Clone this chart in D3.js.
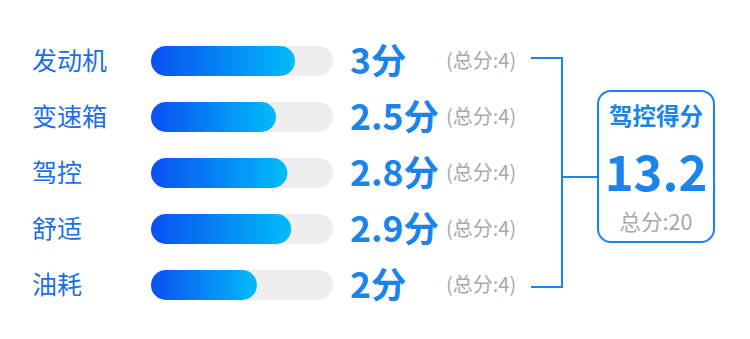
<!DOCTYPE html>
<html>
<head>
<meta charset="utf-8">
<script src="https://cdn.jsdelivr.net/npm/d3@7"></script>
<style>
  html, body { margin: 0; padding: 0; background: #fff; }
  svg text { font-family: "Noto Sans CJK SC", "Noto Sans", sans-serif; }
</style>
</head>
<body>
<svg id="chart" width="750" height="339"></svg>
<script>
// ── data ─────────────────────────────────────────────────────────────────────
const categories = ['发动机', '变速箱', '驾控', '舒适', '油耗'];
const scores     = [3, 2.5, 2.8, 2.9, 2];
const maxScores  = [4, 4, 4, 4, 4];
const summaryTitle = '驾控得分';
const summaryMax   = 20;

// ── colours ──────────────────────────────────────────────────────────────────
const blue      = '#1a84ea';
const labelBlue = '#1b6fe6';
const grey      = '#a9a9a9';
const trackGrey = '#eeeeee';

const svg = d3.select('#chart');

// rows
const y = d3.scalePoint()
  .domain(categories)
  .range([61, 285]);

const barX = 151, barW = 182, barH = 30;

// fill width keeps the rounded cap visible even at low scores
const x = d3.scaleLinear()
  .domain([0, d3.max(maxScores)])
  .range([barH, barW]);

// gradient for the fill
const defs = svg.append('defs');
const grad = defs.append('linearGradient')
  .attr('id', 'barGrad')
  .attr('gradientUnits', 'objectBoundingBox')
  .attr('x1', 0).attr('x2', 1).attr('y1', 0).attr('y2', 0);
grad.append('stop').attr('offset', '0%').attr('stop-color', '#0a4ff0');
grad.append('stop').attr('offset', '100%').attr('stop-color', '#02bcf9');

const rows = svg.selectAll('g.row')
  .data(categories.map((c, i) => ({ name: c, score: scores[i], max: maxScores[i] })))
  .join('g')
  .attr('class', 'row')
  .attr('transform', d => `translate(0,${y(d.name)})`);

rows.append('text')
  .attr('x', 32)
  .attr('dy', 9)
  .attr('font-size', 25)
  .attr('fill', labelBlue)
  .text(d => d.name);

rows.append('rect')
  .attr('x', barX)
  .attr('y', -barH / 2)
  .attr('width', d => x(d.max))
  .attr('height', barH)
  .attr('rx', barH / 2)
  .attr('fill', trackGrey);

rows.append('rect')
  .attr('x', barX)
  .attr('y', -barH / 2)
  .attr('width', d => x(d.score))
  .attr('height', barH)
  .attr('rx', barH / 2)
  .attr('fill', 'url(#barGrad)');

rows.append('text')
  .attr('x', 350)
  .attr('dy', 13)
  .attr('font-size', 35.5)
  .attr('font-weight', 700)
  .attr('fill', blue)
  .text(d => `${d.score}分`);

rows.append('text')
  .attr('x', 446)
  .attr('dy', 7)
  .attr('font-size', 20)
  .attr('fill', grey)
  .text(d => `(总分:${d.max})`);

// ── bracket ──────────────────────────────────────────────────────────────────
const bTop = y(categories[0]) - 3, bBottom = y(categories[categories.length - 1]) + 2;
const midY = 177;
const bracket = d3.path();
bracket.moveTo(531, bTop);
bracket.lineTo(562, bTop);
bracket.lineTo(562, bBottom);
bracket.lineTo(531, bBottom);
bracket.moveTo(562, midY);
bracket.lineTo(598, midY);

svg.append('path')
  .attr('d', bracket.toString())
  .attr('fill', 'none')
  .attr('stroke', blue)
  .attr('stroke-width', 2);

// ── summary box ──────────────────────────────────────────────────────────────
const box = svg.append('g').attr('transform', 'translate(598,91)');
box.append('rect')
  .attr('width', 116)
  .attr('height', 151)
  .attr('rx', 13)
  .attr('fill', '#fff')
  .attr('stroke', blue)
  .attr('stroke-width', 2);

box.append('text')
  .attr('x', 58).attr('y', 34)
  .attr('text-anchor', 'middle')
  .attr('font-size', 23.5)
  .attr('font-weight', 700)
  .attr('fill', blue)
  .text(summaryTitle);

box.append('text')
  .attr('x', 58).attr('y', 100)
  .attr('text-anchor', 'middle')
  .attr('font-size', 49)
  .attr('font-weight', 700)
  .attr('fill', blue)
  .text(d3.format('.1f')(d3.sum(scores)));

box.append('text')
  .attr('x', 58).attr('y', 139)
  .attr('text-anchor', 'middle')
  .attr('font-size', 21.5)
  .attr('fill', grey)
  .text(`总分:${summaryMax}`);
</script>
</body>
</html>
